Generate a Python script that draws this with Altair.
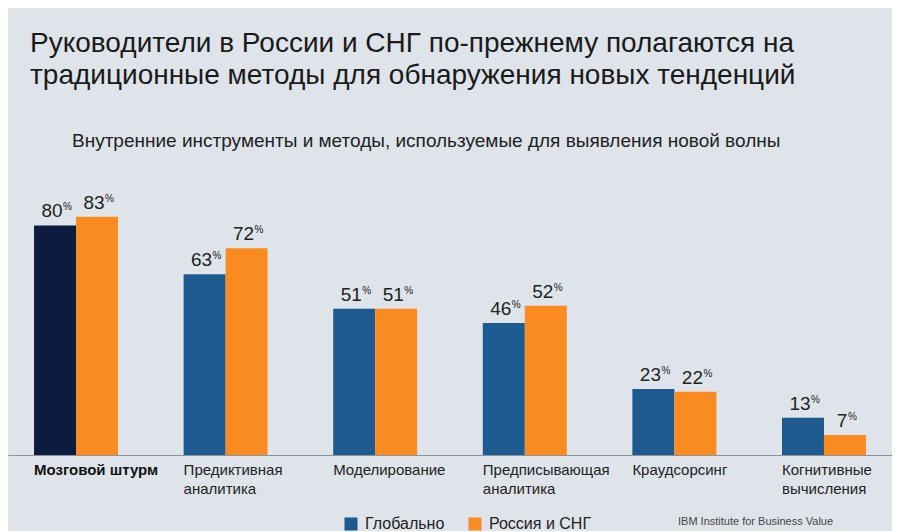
import altair as alt
import pandas as pd

categories = ["Мозговой штурм", "Предиктивная\nаналитика", "Моделирование",
              "Предписывающая\nаналитика", "Краудсорсинг", "Когнитивные\nвычисления"]
global_vals = [80, 63, 51, 46, 23, 13]
russia_vals = [83, 72, 51, 52, 22, 7]
series = ["Глобально", "Россия и СНГ"]

rows = []
for i, c in enumerate(categories):
    rows.append({"cat": c, "idx": i, "series": series[0], "v": global_vals[i]})
    rows.append({"cat": c, "idx": i, "series": series[1], "v": russia_vals[i]})
df = pd.DataFrame(rows)
cat_df = pd.DataFrame({"cat": categories, "idx": list(range(len(categories)))})

FONT = "Liberation Sans"
W, H = 884, 287

xenc = alt.X("cat:N", sort=categories,
             scale=alt.Scale(paddingInner=0.4385, paddingOuter=0.174),
             axis=alt.Axis(labels=False, ticks=False, title=None, domain=True,
                           domainColor="#8d939b", domainWidth=1))
yenc = alt.Y("v:Q", scale=alt.Scale(domain=[0, 100]), axis=None)
xoff = alt.XOffset("series:N", sort=series, scale=alt.Scale(paddingInner=0, paddingOuter=0))

bars = alt.Chart(df).mark_bar().encode(
    x=xenc, y=yenc, xOffset=xoff,
    color=alt.condition(
        "datum.idx == 0 && datum.series == 'Глобально'",
        alt.value("#0c1c3e"),
        alt.Color("series:N", sort=series,
                  scale=alt.Scale(domain=series, range=["#1c5a8f", "#fa8b20"]),
                  legend=alt.Legend(title=None, orient="none", legendX=335, legendY=348,
                                    direction="horizontal", symbolType="square",
                                    symbolSize=170, symbolStrokeWidth=0,
                                    labelFont=FONT, labelFontSize=16, labelColor="#222",
                                    columnPadding=22, labelOffset=6))
    )
)

num = alt.Chart(df).mark_text(font=FONT, fontSize=19, baseline="bottom", dy=-4, dx=-3,
                              color="#222").encode(
    x=xenc, y=yenc, xOffset=xoff, text=alt.Text("v:Q"))
pct2 = alt.Chart(df).transform_filter("datum.v >= 10").mark_text(
    font=FONT, fontSize=10, baseline="bottom", align="left", dy=-13, dx=8,
    color="#222").encode(x=xenc, y=yenc, xOffset=xoff, text=alt.value("%"))
pct1 = alt.Chart(df).transform_filter("datum.v < 10").mark_text(
    font=FONT, fontSize=10, baseline="bottom", align="left", dy=-13, dx=3,
    color="#222").encode(x=xenc, y=yenc, xOffset=xoff, text=alt.value("%"))

lab_bold = alt.Chart(cat_df).transform_filter("datum.idx == 0").mark_text(
    font=FONT, fontSize=15, fontWeight="bold", align="left", baseline="top",
    dx=-42, lineBreak="\n", lineHeight=19, color="#111").encode(
    x=xenc, y=alt.value(H + 8), text="cat:N")
lab_norm = alt.Chart(cat_df).transform_filter("datum.idx > 0").mark_text(
    font=FONT, fontSize=15, align="left", baseline="top",
    dx=-42, lineBreak="\n", lineHeight=19, color="#222").encode(
    x=xenc, y=alt.value(H + 8), text="cat:N")

subtitle = alt.Chart(pd.DataFrame({"t": ["Внутренние инструменты и методы, используемые для выявления новой волны"]})).mark_text(
    font=FONT, fontSize=19, align="left", baseline="alphabetic", color="#222").encode(
    x=alt.value(64), y=alt.value(-21), text="t:N")

footer = alt.Chart(pd.DataFrame({"t": ["IBM Institute for Business Value"]})).mark_text(
    font=FONT, fontSize=11, align="left", baseline="alphabetic", color="#444").encode(
    x=alt.value(670), y=alt.value(357), text="t:N")

chart = alt.layer(bars, num, pct2, pct1, lab_bold, lab_norm, subtitle, footer).properties(
    width=W, height=H,
    autosize=alt.AutoSizeParams(type="none"),
    padding={"left": 0, "top": 160, "right": 0, "bottom": 76},
    background="#dfe4ea",
    title=alt.TitleParams(
        text=["Руководители в России и СНГ по-прежнему полагаются на",
              "традиционные методы для обнаружения новых тенденций"],
        anchor="start", frame="group", font=FONT, fontSize=28, fontWeight="normal",
        color="#1a1a1a", lineHeight=32, dx=22, offset=42)
).configure_view(stroke=None)

chart.save("out.html", embed_options={"renderer": "svg", "actions": False})
